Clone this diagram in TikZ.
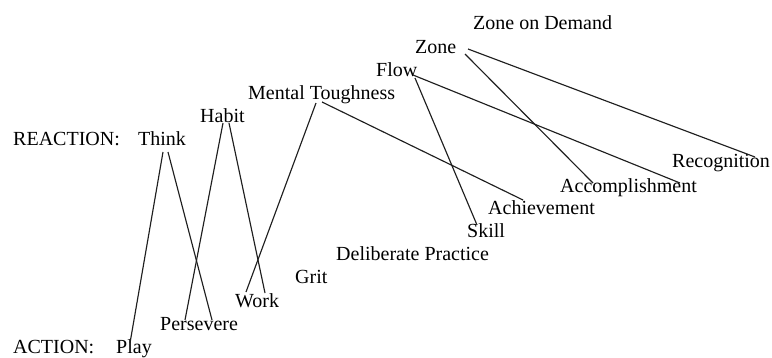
\documentclass[tikz,border=0pt]{standalone}
\usepackage{fontspec}
\setmainfont{Liberation Serif}
\usetikzlibrary{calc}
\begin{document}
\begin{tikzpicture}[x=1pt,y=-1pt,
  lbl/.style={anchor=base west,inner sep=0pt,font=\fontsize{20}{22}\selectfont,text=black},
  link/.style={line width=1.15pt,draw=black!88}]
\useasboundingbox (0,0) rectangle (772,357);
\node[lbl] (zod) at (473,29) {Zone on Demand};
\node[lbl] (zone) at (415,53) {Zone};
\node[lbl] (flow) at (376,76) {Flow};
\node[lbl] (mt) at (248,99) {Mental Toughness};
\node[lbl] (habit) at (200,122) {Habit};
\node[lbl] (reaction) at (13,145) {REACTION:};
\node[lbl] (think) at (138,145) {Think};
\node[lbl] (recog) at (672,167) {Recognition};
\node[lbl] (accomp) at (560,192) {Accomplishment};
\node[lbl] (achieve) at (488,214) {Achievement};
\node[lbl] (skill) at (467,237) {Skill};
\node[lbl] (dp) at (336,260) {Deliberate Practice};
\node[lbl] (grit) at (295,283) {Grit};
\node[lbl] (work) at (235,307) {Work};
\node[lbl] (persevere) at (160,330) {Persevere};
\node[lbl] (action) at (13,353) {ACTION:};
\node[lbl] (play) at (116,353) {Play};
% connectors
\draw[link] ($(think.base west)+(25,7)$) -- ($(play.base west)+(14,-10)$);
\draw[link] ($(think.base west)+(30,7)$) -- ($(persevere.base west)+(52,-10)$);
\draw[link] ($(habit.base west)+(23,1)$) -- ($(persevere.base west)+(25,-10)$);
\draw[link] ($(habit.base west)+(29,1)$) -- ($(work.base west)+(30,-14)$);
\draw[link] ($(mt.base west)+(68,4)$) -- ($(work.base west)+(11,-15)$);
\draw[link] ($(mt.base west)+(74,3)$) -- ($(achieve.base west)+(35,-14)$);
\draw[link] ($(flow.base west)+(39,2)$) -- ($(skill.base west)+(10,-12)$);
\draw[link] ($(flow.base west)+(37,-1)$) -- ($(accomp.base west)+(120,-9)$);
\draw[link] ($(zone.base west)+(50,1)$) -- ($(accomp.base west)+(33,-9)$);
\draw[link] ($(zone.base west)+(53,-4)$) -- ($(recog.base west)+(83,-10)$);
\end{tikzpicture}
\end{document}
